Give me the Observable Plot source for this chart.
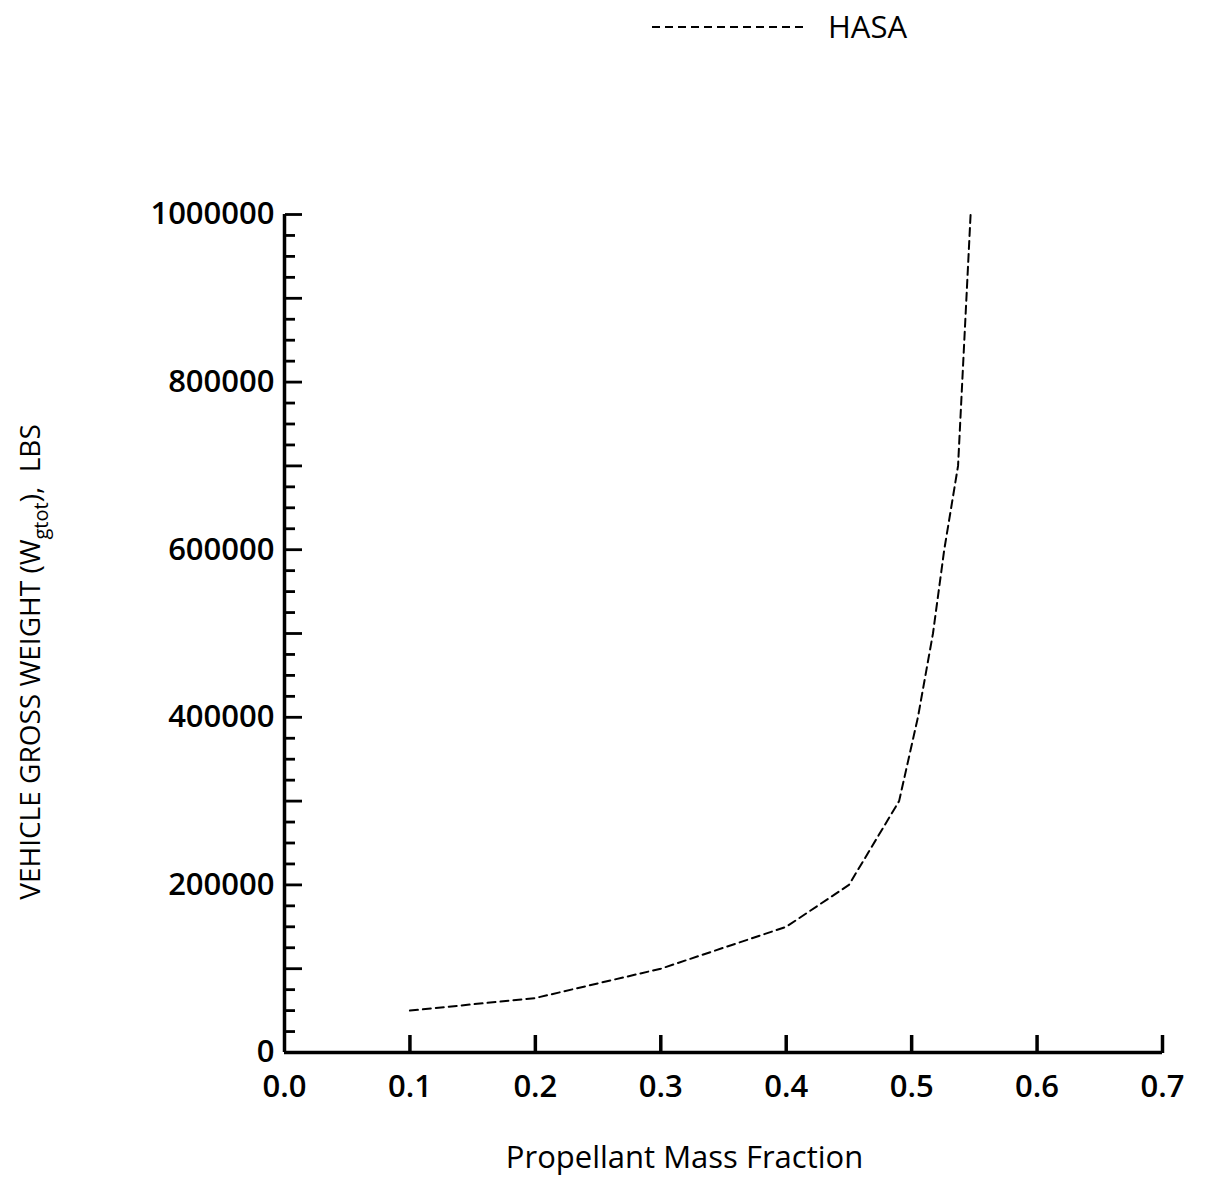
<!DOCTYPE html>
<html>
<head>
<meta charset="utf-8">
<script src="https://cdn.jsdelivr.net/npm/d3@7"></script>
<script src="https://cdn.jsdelivr.net/npm/@observablehq/plot@0.6"></script>
<style>
  html, body { margin: 0; padding: 0; background: #fff; }
  body { font-family: "Open Sans", "DejaVu Sans", sans-serif; width: 1206px; }
  #legend { height: 55px; position: relative; }
  #chart svg { display: block; }
</style>
</head>
<body>
<div id="legend"></div>
<div id="chart"></div>
<script>
// Data
const seriesName = "HASA";
const fraction = [0.1, 0.2, 0.3, 0.4, 0.45, 0.49, 0.505, 0.517, 0.526, 0.537, 0.547];
const weight   = [50000, 65000, 100000, 150000, 200000, 300000, 400000, 500000, 600000, 700000, 1000000];

const xTickValues = [0, 0.1, 0.2, 0.3, 0.4, 0.5, 0.6, 0.7];
const xTickLabels = ["0.0", "0.1", "0.2", "0.3", "0.4", "0.5", "0.6", "0.7"];
const yLabelValues = [0, 200000, 400000, 600000, 800000, 1000000];
const yMajorTicks = [0, 100000, 200000, 300000, 400000, 500000, 600000, 700000, 800000, 900000, 1000000];
const yMinorTicks = d3.range(0, 1000001, 25000).filter(v => v % 100000 !== 0);

const xTitle = "Propellant Mass Fraction";

const data = fraction.map((f, i) => ({x: f, y: weight[i]}));

const W = 1206, H = 1127;
const dash = "8,5";

const plot = Plot.plot({
  width: W,
  height: H,
  marginLeft: 284,
  marginRight: 44,
  marginTop: 159,
  marginBottom: 130,
  style: {fontFamily: '"Open Sans", sans-serif', fontSize: "26px", color: "#000", background: "#fff"},
  x: {domain: [0, 0.7]},
  y: {domain: [0, 1000000]},
  marks: [
    // x tick labels
    Plot.axisX({ticks: xTickValues, tickSize: 0, tickPadding: 22, tickFormat: d => xTickLabels[xTickValues.indexOf(d)] ?? d3.format(".1f")(d), label: null, fontSize: 31, fontWeight: 600}),
    // x ticks pointing up into the plot
    Plot.axisX({anchor: "top", frameAnchor: "bottom", ticks: xTickValues.slice(1), tickSize: 18, strokeWidth: 3.5, tickFormat: () => "", label: null}),
    // y tick labels
    Plot.axisY({ticks: yLabelValues, tickSize: 0, tickPadding: 10, tickFormat: d => String(d), label: null, fontSize: 31, fontWeight: 600}),
    // y ticks pointing right
    Plot.axisY({anchor: "right", frameAnchor: "left", ticks: yMajorTicks, tickSize: 17, strokeWidth: 2.8, tickFormat: () => "", label: null}),
    Plot.axisY({anchor: "right", frameAnchor: "left", ticks: yMinorTicks, tickSize: 10, strokeWidth: 2.8, tickFormat: () => "", label: null}),
    // axis lines
    Plot.ruleY([0], {stroke: "#000", strokeWidth: 3.5}),
    Plot.ruleX([0], {stroke: "#000", strokeWidth: 3.5}),
    // data
    Plot.line(data, {x: "x", y: "y", stroke: "#000", strokeWidth: 2, strokeDasharray: dash}),
    // x axis title
    Plot.text([xTitle], {frameAnchor: "bottom", dx: -39, dy: 115, fontSize: 31, fill: "#000"})
  ]
});

document.getElementById("chart").appendChild(plot);

// y axis title with subscript
const svg = d3.select(plot);
const yt = svg.append("text")
  .attr("transform", "translate(40, 607) rotate(-90)")
  .attr("text-anchor", "middle")
  .attr("font-family", '"Open Sans", sans-serif')
  .attr("font-size", 28)
  .attr("fill", "#000");
yt.append("tspan").text("VEHICLE GROSS WEIGHT (W");
yt.append("tspan").attr("font-size", 20).attr("dy", 8).text("gtot");
yt.append("tspan").attr("dy", -8).text("),  LBS");

// legend
const leg = d3.select("#legend").append("svg").attr("width", W).attr("height", 55);
leg.append("line").attr("x1", 652).attr("x2", 808).attr("y1", 27).attr("y2", 27)
  .attr("stroke", "#000").attr("stroke-width", 2).attr("stroke-dasharray", dash);
leg.append("text").attr("x", 828).attr("y", 38)
  .attr("font-family", '"Open Sans", sans-serif').attr("font-size", 31).attr("fill", "#000")
  .text(seriesName);
</script>
</body>
</html>
